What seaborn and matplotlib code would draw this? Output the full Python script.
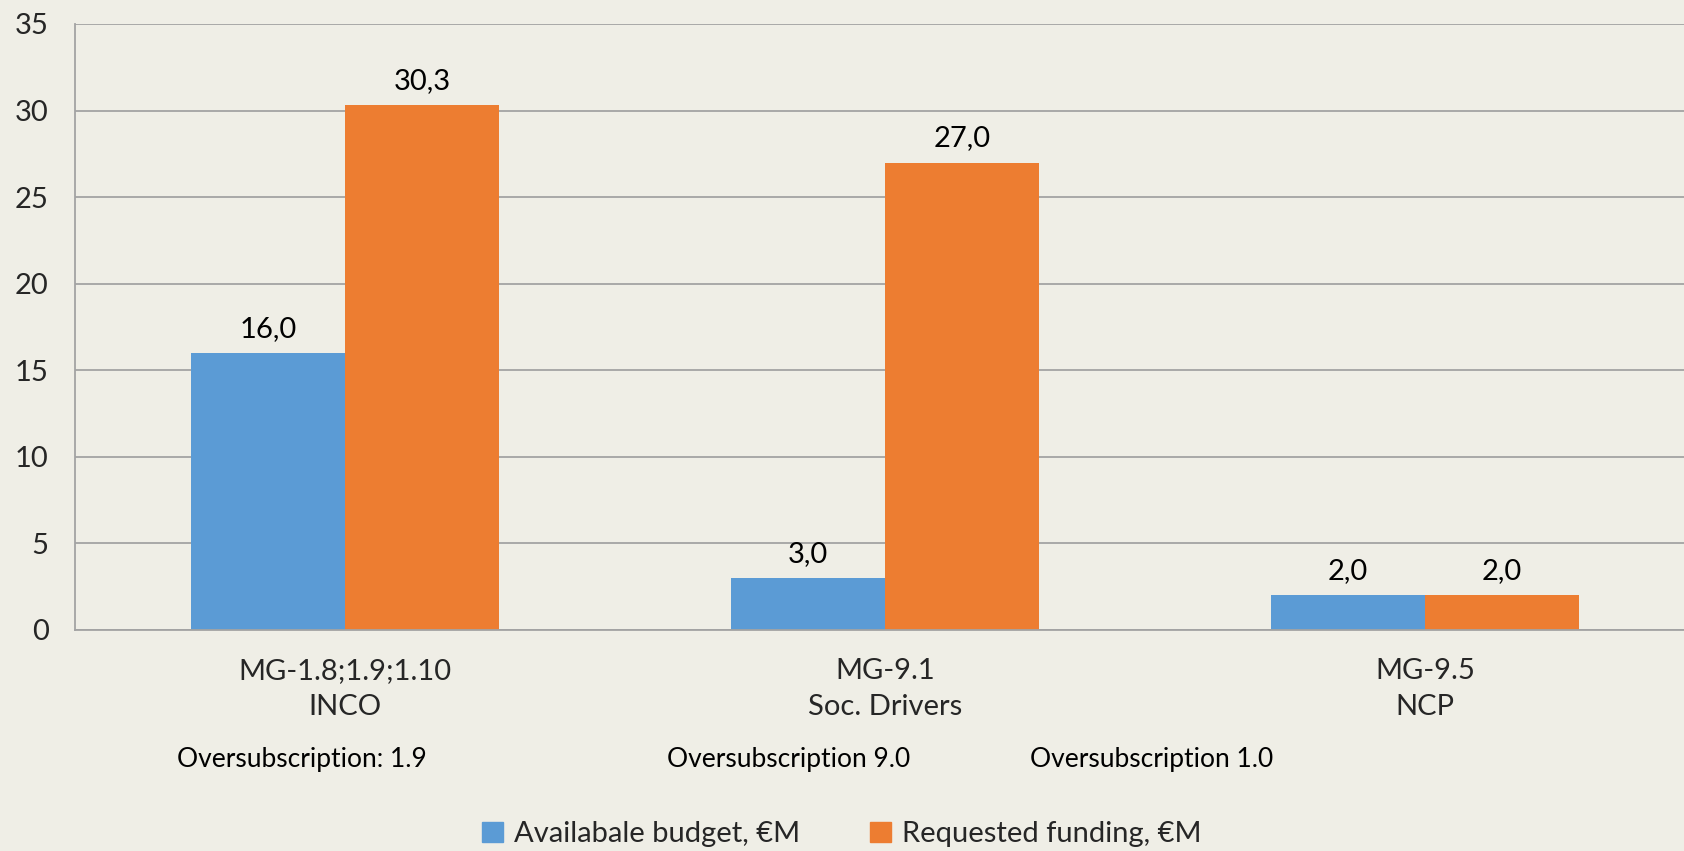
import matplotlib
matplotlib.use("Agg")
import matplotlib.pyplot as plt
import matplotlib.transforms as mtransforms
import seaborn as sns
import pandas as pd

# chart data
categories = ["MG-1.8;1.9;1.10\nINCO", "MG-9.1\nSoc. Drivers", "MG-9.5\nNCP"]
series_names = ["Availabale budget, €M", "Requested funding, €M"]
available_budget = [16.0, 3.0, 2.0]
requested_funding = [30.3, 27.0, 2.0]
oversub_labels = ["Oversubscription: 1.9", "Oversubscription 9.0", "Oversubscription 1.0"]
y_ticks = [0, 5, 10, 15, 20, 25, 30, 35]

BG = "#EFEEE6"
GRID = "#A3A3A3"
colors = ["#5B9BD5", "#ED7D31"]

df = pd.DataFrame({
    "category": categories * 2,
    "series": [series_names[0]] * 3 + [series_names[1]] * 3,
    "value": available_budget + requested_funding,
})

sns.set_style("white")
plt.rcParams["font.family"] = ["Lato", "DejaVu Sans"]
FS = 21

fig = plt.figure(figsize=(16.84, 8.51), dpi=100, facecolor=BG)
ax = fig.add_axes([75 / 1684, 1 - 630 / 851, 1620 / 1684, 606 / 851])
ax.set_facecolor(BG)

sns.barplot(data=df, x="category", y="value", hue="series", palette=colors,
            width=0.57, gap=0, saturation=1, linewidth=0, ax=ax, legend=False)

for cont in ax.containers:
    ax.bar_label(cont, labels=[f"{b.get_height():.1f}".replace(".", ",") for b in cont],
                 padding=8, fontsize=FS, color="black")

ax.set_xlim(-0.5, 2.5)
ax.set_ylim(0, 35)
ax.set_yticks(y_ticks)
ax.yaxis.grid(True, color=GRID, linewidth=1.3)
ax.set_axisbelow(True)
ax.tick_params(axis="y", length=7, width=1.3, color=GRID, pad=12, labelsize=FS)

# category boundary ticks (major), labels at centres (minor)
ax.set_xticks([-0.5, 0.5, 1.5, 2.5])
ax.set_xticklabels([])
ax.tick_params(axis="x", which="major", length=7, width=1.3, color=GRID, direction="out")
ax.set_xticks([0, 1, 2], minor=True)
ax.set_xticklabels(categories, minor=True, fontsize=FS, linespacing=1.5)
ax.tick_params(axis="x", which="minor", length=0, pad=20)
ax.set_xlabel("")
ax.set_ylabel("")

for s in ["top", "right"]:
    ax.spines[s].set_visible(False)
ax.spines["left"].set_color(GRID)
ax.spines["left"].set_linewidth(1.3)
ax.spines["bottom"].set_color(GRID)
ax.spines["bottom"].set_linewidth(1.3)

# oversubscription notes below the category labels
trans = mtransforms.blended_transform_factory(ax.transData, fig.transFigure)
for xpos, txt in zip([-0.08, 0.822, 1.494], oversub_labels):
    ax.text(xpos, 1 - 760 / 851, txt, transform=trans, ha="center", va="center",
            fontsize=19, color="black")

handles = [plt.Rectangle((0, 0), 1, 1, color=c) for c in colors]
fig.legend(handles, series_names, loc="center", bbox_to_anchor=(0.5, 1 - 834 / 851),
           ncol=2, frameon=False, fontsize=FS, handlelength=0.7, handleheight=0.7,
           handletextpad=0.4, columnspacing=2.4)

fig.savefig("out.png", dpi=100, facecolor=BG)
